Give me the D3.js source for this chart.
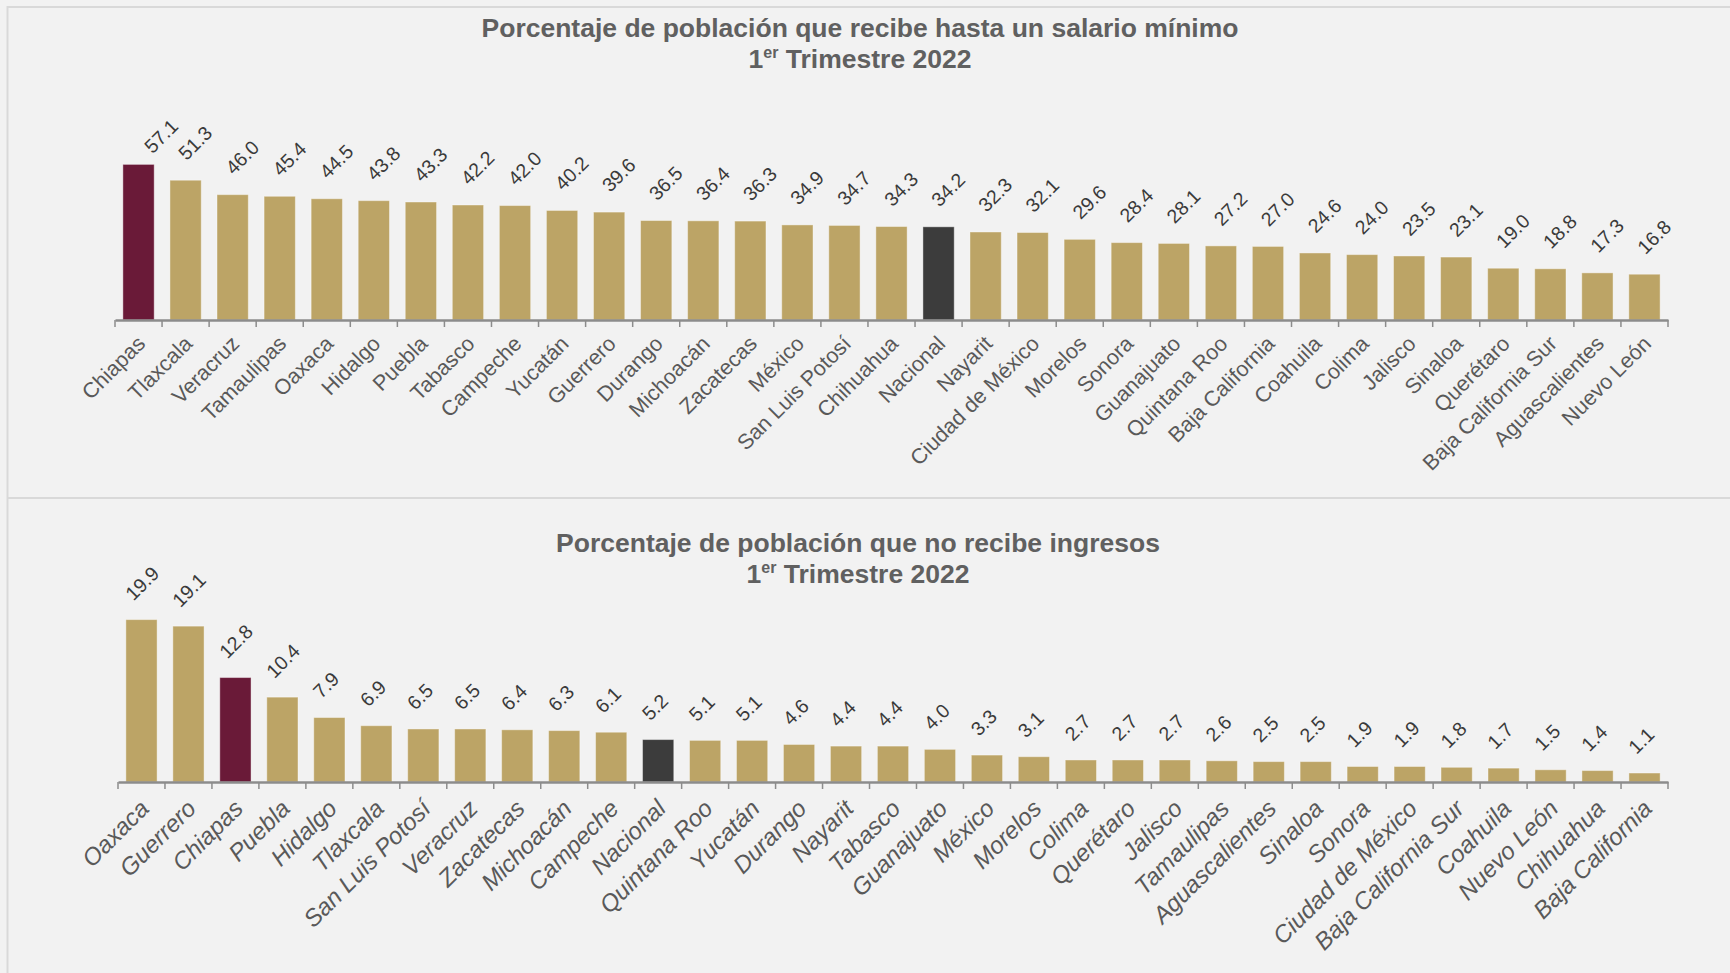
<!DOCTYPE html>
<html>
<head>
<meta charset="utf-8">
<script src="https://cdn.jsdelivr.net/npm/d3@7"></script>
<style>
  html, body { margin: 0; padding: 0; background: #f2f2f2; }
  svg { display: block; }
  text { font-family: "Liberation Sans", Arial, sans-serif; }
</style>
</head>
<body>
<svg id="chart" width="1730" height="973"></svg>
<script>
// ---------- Data ----------
const topTitle = "Porcentaje de población que recibe hasta un salario mínimo";
const bottomTitle = "Porcentaje de población que no recibe ingresos";
const periodMain = "1";
const periodSup = "er";
const periodRest = " Trimestre 2022";

const topCategories = ["Chiapas","Tlaxcala","Veracruz","Tamaulipas","Oaxaca","Hidalgo","Puebla","Tabasco","Campeche","Yucatán","Guerrero","Durango","Michoacán","Zacatecas","México","San Luis Potosí","Chihuahua","Nacional","Nayarit","Ciudad de México","Morelos","Sonora","Guanajuato","Quintana Roo","Baja California","Coahuila","Colima","Jalisco","Sinaloa","Querétaro","Baja California Sur","Aguascalientes","Nuevo León"];
const topValues = [57.1,51.3,46.0,45.4,44.5,43.8,43.3,42.2,42.0,40.2,39.6,36.5,36.4,36.3,34.9,34.7,34.3,34.2,32.3,32.1,29.6,28.4,28.1,27.2,27.0,24.6,24.0,23.5,23.1,19.0,18.8,17.3,16.8];

const bottomCategories = ["Oaxaca","Guerrero","Chiapas","Puebla","Hidalgo","Tlaxcala","San Luis Potosí","Veracruz","Zacatecas","Michoacán","Campeche","Nacional","Quintana Roo","Yucatán","Durango","Nayarit","Tabasco","Guanajuato","México","Morelos","Colima","Querétaro","Jalisco","Tamaulipas","Aguascalientes","Sinaloa","Sonora","Ciudad de México","Baja California Sur","Coahuila","Nuevo León","Chihuahua","Baja California"];
const bottomValues = [19.9,19.1,12.8,10.4,7.9,6.9,6.5,6.5,6.4,6.3,6.1,5.2,5.1,5.1,4.6,4.4,4.4,4.0,3.3,3.1,2.7,2.7,2.7,2.6,2.5,2.5,1.9,1.9,1.8,1.7,1.5,1.4,1.1];

const highlightState = "Chiapas";
const nationalLabel = "Nacional";

// ---------- Styles ----------
const COLORS = { gold: "#bca466", maroon: "#6a1a38", national: "#3c3c3c" };
const svg = d3.select("#chart");

// frame
svg.append("rect").attr("width", 1730).attr("height", 973).attr("fill", "#f2f2f2");
const frame = svg.append("g").attr("stroke", "#d9d9d9").attr("stroke-width", 2);
frame.append("line").attr("x1", 7).attr("x2", 1730).attr("y1", 7).attr("y2", 7);
frame.append("line").attr("x1", 7.5).attr("x2", 7.5).attr("y1", 6).attr("y2", 973);
frame.append("line").attr("x1", 7).attr("x2", 1730).attr("y1", 498).attr("y2", 498);

function colorFor(c) {
  if (c === highlightState) return COLORS.maroon;
  if (c === nationalLabel) return COLORS.national;
  return COLORS.gold;
}

function drawPanel(cfg) {
  const g = svg.append("g");
  const x = d3.scaleBand().domain(cfg.categories).range(cfg.xRange).paddingInner(0.335).paddingOuter(0.1675);
  const y = d3.scaleLinear().domain(cfg.yDomain).range([cfg.axisY, cfg.yTop]);

  // title
  const t = g.append("text").attr("x", cfg.titleX).attr("text-anchor", "middle")
    .attr("font-weight", "bold").attr("font-size", 26.5).attr("fill", "#606060");
  t.append("tspan").attr("x", cfg.titleX).attr("y", cfg.titleY).text(cfg.title);
  const l2 = t.append("tspan").attr("x", cfg.titleX).attr("y", cfg.titleY + 30.5);
  l2.text(periodMain);
  t.append("tspan").attr("font-size", 16).attr("dy", -10).text(periodSup);
  t.append("tspan").attr("dy", 10).text(periodRest);

  const data = cfg.categories.map((c, i) => ({ c, v: cfg.values[i], i }));

  // bars
  g.selectAll("rect.bar").data(data).join("rect")
    .attr("class", "bar")
    .attr("x", d => x(d.c)).attr("width", x.bandwidth())
    .attr("y", d => y(d.v)).attr("height", d => y(0) - y(d.v))
    .attr("fill", d => colorFor(d.c))
    .attr("stroke", "rgba(255,255,255,0.4)").attr("stroke-width", 1);

  // axis
  const axis = d3.axisBottom(x).tickSize(0).tickFormat("");
  const ag = g.append("g").attr("transform", `translate(0,${cfg.axisY})`).call(axis);
  ag.select(".domain").attr("stroke", "#8c8c8c").attr("stroke-width", 2.5);
  const step = x.step();
  const tickXs = d3.range(cfg.categories.length + 1).map(i => cfg.xRange[0] + i * step);
  g.append("g").selectAll("line").data(tickXs).join("line")
    .attr("x1", d => d).attr("x2", d => d)
    .attr("y1", cfg.axisY).attr("y2", cfg.axisY + 7)
    .attr("stroke", "#8c8c8c").attr("stroke-width", 1.5);

  // category labels
  g.append("g").selectAll("text").data(data).join("text")
    .attr("transform", d => `translate(${x(d.c) + x.bandwidth() / 2 + cfg.catDx},${cfg.axisY + cfg.catDy}) rotate(-45)`)
    .attr("text-anchor", "end")
    .attr("font-size", cfg.catSize)
    .attr("font-style", cfg.catItalic ? "italic" : "normal")
    .attr("fill", "#595959")
    .text(d => d.c);

  // value labels
  g.append("g").selectAll("text").data(data).join("text")
    .attr("transform", d => {
      const nudge = cfg.nudge(d);
      return `translate(${x(d.c) + x.bandwidth() / 2 + cfg.valDx + nudge[0]},${y(d.v) - cfg.valGap + nudge[1]}) rotate(-45)`;
    })
    .attr("font-size", 19.5)
    .attr("fill", "#3a3a3a")
    .text(d => d3.format(".1f")(d.v));
}

drawPanel({
  title: topTitle, titleX: 860, titleY: 37,
  categories: topCategories, values: topValues,
  xRange: [115, 1668], axisY: 320, yTop: 47.5, yDomain: [0, 100],
  catDx: 8, catDy: 25, catSize: 21.5, catItalic: false,
  valDx: 1, valGap: 19,
  nudge: d => d.i === 0 ? [13, 9] : [0, 0]
});

drawPanel({
  title: bottomTitle, titleX: 858, titleY: 552,
  categories: bottomCategories, values: bottomValues,
  xRange: [118, 1668], axisY: 782, yTop: 578, yDomain: [0, 25],
  catDx: 9, catDy: 28, catSize: 24, catItalic: true,
  valDx: -8, valGap: 18,
  nudge: d => [0, 0]
});
</script>
</body>
</html>
